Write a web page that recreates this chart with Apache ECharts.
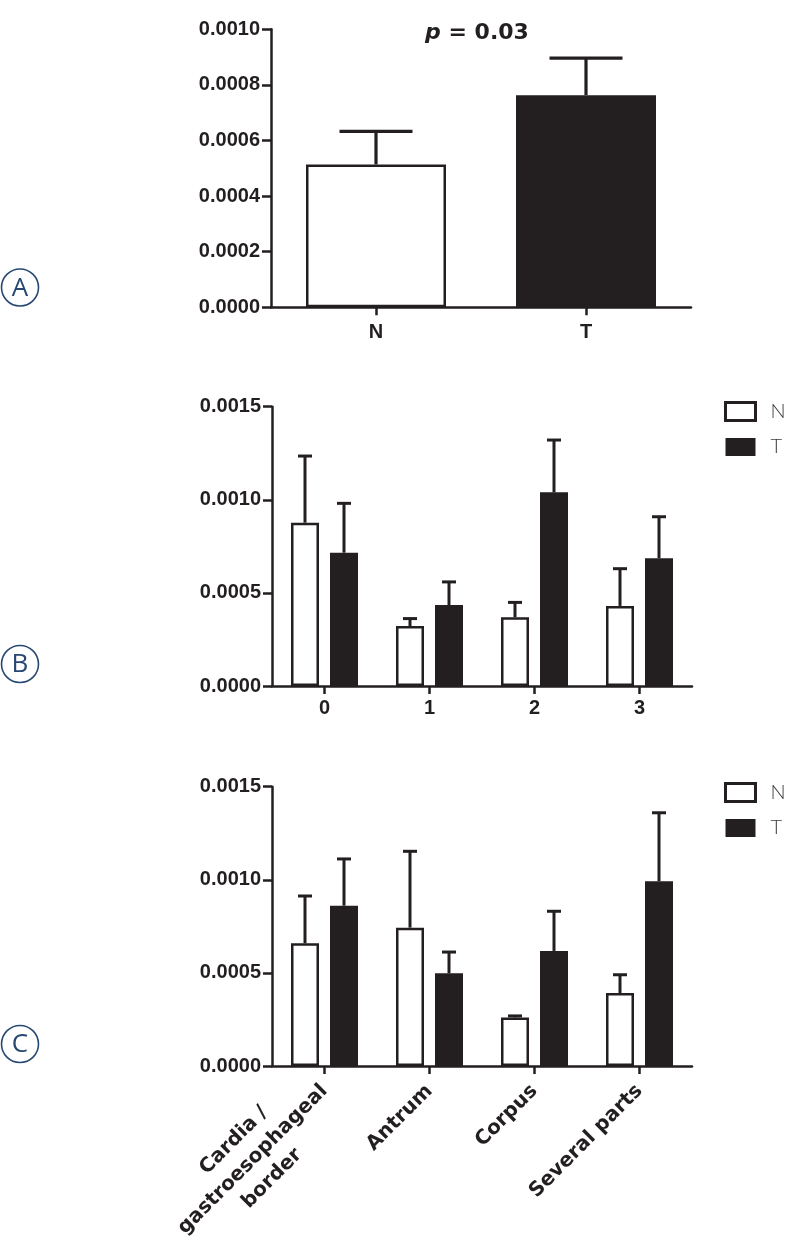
<!DOCTYPE html>
<html>
<head>
<meta charset="utf-8">
<script src="https://cdn.jsdelivr.net/npm/echarts@6/dist/echarts.min.js"></script>
<style>
html,body{margin:0;padding:0;background:#fff;}
#chart{width:787px;height:1256px;}
</style>
</head>
<body>
<div id="chart"></div>
<script>
// ---------- DATA ----------
const aCategories = ['N', 'T'];
const aMean = [0.000514, 0.000763];
const aSem  = [0.000119, 0.000133];
const aTitle = 'p = 0.03';

const seriesNames = ['N', 'T'];

const bCategories = ['0', '1', '2', '3'];
const bMeanN = [0.000877, 0.000322, 0.000369, 0.000430];
const bSemN  = [0.000358, 0.000040, 0.000080, 0.000200];
const bMeanT = [0.000716, 0.000435, 0.001040, 0.000686];
const bSemT  = [0.000265, 0.000124, 0.000281, 0.000223];

const cCategories = ['Cardia /\ngastroesophageal\nborder', 'Antrum', 'Corpus', 'Several parts'];
const cMeanN = [0.000659, 0.000743, 0.000261, 0.000392];
const cSemN  = [0.000254, 0.000410, 0.000008, 0.000098];
const cMeanT = [0.000861, 0.000498, 0.000618, 0.000992];
const cSemT  = [0.000251, 0.000114, 0.000213, 0.000368];

const panelLetters = ['A', 'B', 'C'];

// ---------- STYLE ----------
const INK = '#231f20';
const NAVY = '#284873';
const fillN = '#ffffff';
const fillT = INK;
const tickFont = 'Liberation Sans';

const chart = echarts.init(document.getElementById('chart'), null, {renderer: 'canvas'});

function yAxisCfg(gridIndex, max, interval) {
  return {
    type: 'value', gridIndex, min: 0, max, interval,
    axisLine: {show: true, lineStyle: {color: INK, width: 2.5}},
    axisTick: {show: true, length: 9, lineStyle: {color: INK, width: 2.5}},
    splitLine: {show: false},
    axisLabel: {
      margin: 11, color: INK, fontFamily: tickFont, fontWeight: 'bold', fontSize: 20,
      formatter: v => v.toFixed(4)
    }
  };
}
function xAxisCfg(gridIndex, data, labelExtra) {
  return {
    type: 'category', gridIndex, data,
    axisLine: {show: true, lineStyle: {color: INK, width: 2.5}},
    axisTick: {show: true, alignWithLabel: true, length: 8, lineStyle: {color: INK, width: 2.5}},
    splitLine: {show: false},
    axisLabel: Object.assign({
      interval: 0, margin: 13, color: INK, fontFamily: tickFont, fontWeight: 'bold', fontSize: 20
    }, labelExtra || {})
  };
}

function errRender(offset, capW, lw) {
  return function (params, api) {
    const c = api.value(0), m = api.value(1), e = api.value(2);
    const p0 = api.coord([c, m]);
    const p1 = api.coord([c, m + e]);
    const x = p0[0] + offset;
    return {
      type: 'group',
      children: [
        {type: 'line', shape: {x1: x, y1: p0[1], x2: x, y2: p1[1]}, style: {stroke: INK, lineWidth: lw}},
        {type: 'line', shape: {x1: x - capW / 2, y1: p1[1], x2: x + capW / 2, y2: p1[1]}, style: {stroke: INK, lineWidth: lw}}
      ]
    };
  };
}

function errData(means, sems) {
  return means.map((m, i) => [i, m, sems[i]]);
}

const barStyleN = {color: fillN, borderColor: INK, borderWidth: 2.5};
const barStyleT = {color: fillT, borderColor: INK, borderWidth: 2.5};

const BW = 28, GAP = 11;
const OFF = (BW + GAP) / 2;

function groupSeries(idx, meanN, semN, meanT, semT) {
  return [
    {name: seriesNames[0], type: 'bar', xAxisIndex: idx, yAxisIndex: idx, data: meanN,
     barWidth: BW, barGap: (GAP / BW * 100) + '%', itemStyle: barStyleN, z: 2},
    {name: seriesNames[1], type: 'bar', xAxisIndex: idx, yAxisIndex: idx, data: meanT,
     barWidth: BW, barGap: (GAP / BW * 100) + '%', itemStyle: barStyleT, z: 2},
    {name: 'errN' + idx, type: 'custom', xAxisIndex: idx, yAxisIndex: idx, z: 3,
     renderItem: errRender(-OFF, 14, 3), data: errData(meanN, semN)},
    {name: 'errT' + idx, type: 'custom', xAxisIndex: idx, yAxisIndex: idx, z: 3,
     renderItem: errRender(OFF, 14, 3), data: errData(meanT, semT)}
  ];
}

const legendItems = [
  {name: seriesNames[0], icon: 'rect', itemStyle: {color: fillN, borderColor: INK, borderWidth: 3}},
  {name: seriesNames[1], icon: 'rect', itemStyle: {color: fillT, borderColor: INK, borderWidth: 0}}
];
function legendCfg(top) {
  return {
    show: true, orient: 'vertical', left: 719, top: top, itemWidth: 30, itemHeight: 18, itemGap: 15,
    selectedMode: false, data: legendItems,
    textStyle: {fontFamily: 'Lato', fontWeight: 300, fontSize: 20, color: '#3a3a3a', padding: [0, 0, 0, 10]}
  };
}

const circleCenters = [[20, 287.5], [20, 664], [20, 1044]];
const graphics = [];
panelLetters.forEach((L, i) => {
  graphics.push({type: 'circle', shape: {cx: circleCenters[i][0], cy: circleCenters[i][1], r: 18.5},
    style: {fill: 'none', stroke: NAVY, lineWidth: 1.6}});
  graphics.push({type: 'text', x: circleCenters[i][0], y: circleCenters[i][1] + 1,
    style: {text: L, fill: NAVY, font: '500 26px "Open Sans"', align: 'center', verticalAlign: 'middle'}});
});
graphics.push({type: 'text', x: 477, y: 33,
  style: {
    text: '{i|p} = 0.03', align: 'center', verticalAlign: 'middle',
    rich: {
      i: {fontStyle: 'italic', fontFamily: 'DejaVu Sans', fontSize: 22, fill: INK, fontWeight: 'bold'}
    },
    fontFamily: 'DejaVu Sans', fontSize: 22, fill: INK, fontWeight: 'bold'
  }});

const option = {
  animation: false,
  backgroundColor: '#ffffff',
  grid: [
    {left: 271, right: 96, top: 29.3, bottom: 1256 - 307.3, outerBoundsMode: 'none', containLabel: false},
    {left: 272, right: 95, top: 406.7, bottom: 1256 - 686, outerBoundsMode: 'none', containLabel: false},
    {left: 272, right: 95, top: 786.7, bottom: 1256 - 1066, outerBoundsMode: 'none', containLabel: false}
  ],
  xAxis: [
    xAxisCfg(0, aCategories, {margin: 15}),
    xAxisCfg(1, bCategories, {margin: 12}),
    xAxisCfg(2, cCategories, {
      rotate: 45, margin: 22,
      formatter: v => v.split('\n').map(s => '{c|' + s + '}').join('\n'),
      rich: {c: {align: 'center', fontFamily: 'DejaVu Sans', fontWeight: 'bold', fontSize: 20, lineHeight: 27, color: INK}}
    })
  ],
  yAxis: [
    yAxisCfg(0, 0.0010, 0.0002),
    yAxisCfg(1, 0.0015, 0.0005),
    yAxisCfg(2, 0.0015, 0.0005)
  ],
  legend: [legendCfg(396), legendCfg(777)],
  graphic: graphics,
  series: [
    {name: 'A', type: 'bar', xAxisIndex: 0, yAxisIndex: 0, barWidth: 140, z: 2,
     data: aMean.map((v, i) => ({value: v, itemStyle: i === 0 ? barStyleN : barStyleT}))},
    {name: 'errA', type: 'custom', xAxisIndex: 0, yAxisIndex: 0, z: 3,
     renderItem: errRender(0, 73, 3.2), data: errData(aMean, aSem)},
    ...groupSeries(1, bMeanN, bSemN, bMeanT, bSemT),
    ...groupSeries(2, cMeanN, cSemN, cMeanT, cSemT)
  ]
};
chart.setOption(option);
</script>
</body>
</html>
